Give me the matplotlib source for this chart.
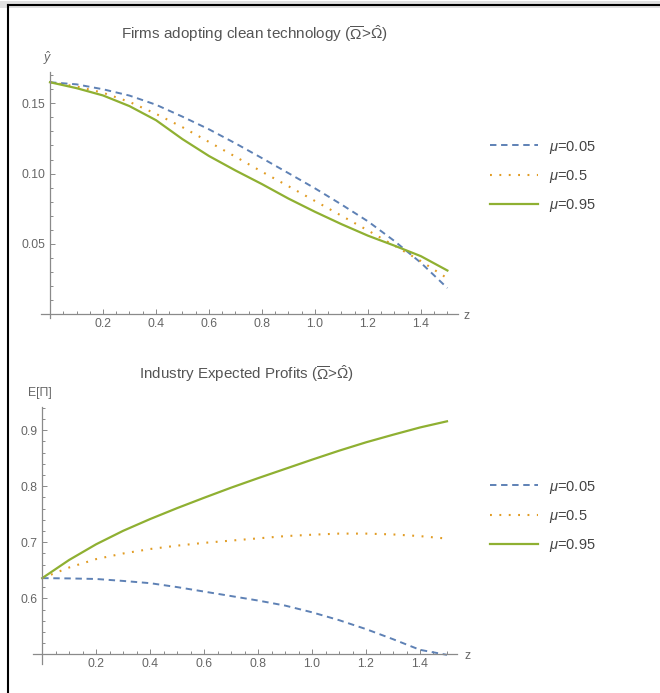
import matplotlib
matplotlib.use('Agg')
import matplotlib.pyplot as plt
from matplotlib.lines import Line2D
from matplotlib.ticker import FixedLocator, MultipleLocator, FormatStrFormatter

plt.rcParams['font.family'] = ['Liberation Sans', 'DejaVu Sans']
plt.rcParams['mathtext.fontset'] = 'custom'
plt.rcParams['mathtext.rm'] = 'Liberation Sans'
plt.rcParams['mathtext.it'] = 'Liberation Sans:italic'
plt.rcParams['mathtext.bf'] = 'Liberation Sans:bold'

# ---------------- data ----------------
z = [0.0, 0.1, 0.2, 0.3, 0.4, 0.5, 0.6, 0.7, 0.8, 0.9, 1.0, 1.1, 1.2, 1.3, 1.4, 1.5]
series_labels = [r'$\mu$=0.05', r'$\mu$=0.5', r'$\mu$=0.95']

# Firms adopting clean technology (y-hat)
yhat_mu005 = [0.165, 0.1635, 0.160, 0.1555, 0.149, 0.1405, 0.1315, 0.1215, 0.111, 0.1003,
              0.0895, 0.078, 0.066, 0.052, 0.0365, 0.0185]
yhat_mu05 = [0.165, 0.162, 0.1575, 0.151, 0.1425, 0.133, 0.1225, 0.112, 0.1013, 0.091,
             0.0805, 0.070, 0.0595, 0.0487, 0.0377, 0.0254]
yhat_mu095 = [0.165, 0.1608, 0.1556, 0.148, 0.138, 0.1245, 0.1125, 0.1022, 0.0925, 0.0822,
              0.0728, 0.064, 0.0558, 0.0487, 0.0412, 0.031]

# Industry expected profits E[Pi]
prof_mu005 = [0.636, 0.6355, 0.6345, 0.631, 0.627, 0.620, 0.612, 0.604, 0.596, 0.587,
              0.575, 0.561, 0.545, 0.527, 0.508, 0.499]
prof_mu05 = [0.636, 0.655, 0.670, 0.680, 0.688, 0.694, 0.699, 0.703, 0.707, 0.711,
             0.7135, 0.7155, 0.7155, 0.714, 0.711, 0.7066]
prof_mu095 = [0.636, 0.6685, 0.6965, 0.7205, 0.7415, 0.761, 0.7795, 0.7975, 0.8145, 0.831,
              0.8475, 0.8635, 0.8785, 0.892, 0.905, 0.916]

top_yticks = [0.05, 0.10, 0.15]
bot_yticks = [0.6, 0.7, 0.8, 0.9]
xticks = [0.2, 0.4, 0.6, 0.8, 1.0, 1.2, 1.4]

titles = [r'Firms adopting clean technology ($\overline{\Omega}$>$\hat{\Omega}$)',
          r'Industry Expected Profits ($\overline{\Omega}$>$\hat{\Omega}$)']
ylabels = [r'$\hat{y}$', 'E[Π]']

# ---------------- style ----------------
W, H = 660, 693
colors = ['#5E81B5', '#E19C24', '#8FB032']
styles = [dict(linestyle=(0, (3.3, 2.4)), linewidth=1.4),
          dict(linestyle=(0, (0.9, 3.6)), linewidth=1.5),
          dict(linestyle='-', linewidth=1.6)]
axcol = '#8a8a8a'
txtcol = '#666666'

fig = plt.figure(figsize=(W / 100, H / 100), dpi=100)


def px_rect(l, t, r, b):
    return [l / W, 1 - b / H, (r - l) / W, (b - t) / H]


def style_axes(ax, yorigin, ymajor, yminor, fmt):
    for s in ['top', 'right']:
        ax.spines[s].set_visible(False)
    ax.spines['left'].set_position(('data', 0))
    ax.spines['bottom'].set_position(('data', yorigin))
    for s in ['left', 'bottom']:
        ax.spines[s].set_color(axcol)
        ax.spines[s].set_linewidth(0.9)
    ax.xaxis.set_major_locator(FixedLocator(xticks))
    ax.xaxis.set_minor_locator(MultipleLocator(0.05))
    ax.yaxis.set_major_locator(FixedLocator(ymajor))
    ax.yaxis.set_minor_locator(MultipleLocator(yminor))
    ax.yaxis.set_major_formatter(FormatStrFormatter(fmt))
    ax.xaxis.set_major_formatter(FormatStrFormatter('%.1f'))
    ax.tick_params(which='both', direction='in', color=axcol, width=0.7,
                   labelcolor=txtcol, labelsize=8.8)
    ax.tick_params(which='major', length=3.8)
    ax.tick_params(which='minor', length=2.2)
    ax.tick_params(axis='y', pad=3.5)
    ax.tick_params(axis='x', pad=2.5)
    ax.patch.set_alpha(0)


# ---- top panel ----
ax1 = fig.add_axes(px_rect(41, 71.7, 458, 318))
for vals, c, st, lab in zip([yhat_mu005, yhat_mu05, yhat_mu095], colors, styles, series_labels):
    ax1.plot(z, vals, color=c, label=lab, **st)
ax1.set_xlim(-0.034, 1.54)
ax1.set_ylim(-0.0028, 0.1725)
style_axes(ax1, 0, top_yticks, 0.01, '%.2f')

# ---- bottom panel ----
ax2 = fig.add_axes(px_rect(33.3, 407.3, 456.7, 664))
for vals, c, st, lab in zip([prof_mu005, prof_mu05, prof_mu095], colors, styles, series_labels):
    ax2.plot(z, vals, color=c, label=lab, **st)
ax2.set_xlim(-0.033, 1.536)
ax2.set_ylim(0.4827, 0.941)
style_axes(ax2, 0.5, bot_yticks, 0.02, '%.1f')

# legends
for ax, yc in [(ax1, 176.5), (ax2, 516.5)]:
    ax.legend(loc='center left', bbox_to_anchor=(490 / W, 1 - yc / H),
              bbox_transform=fig.transFigure, frameon=False, fontsize=10.5,
              handlelength=3.3, handletextpad=0.75, labelspacing=0.85,
              borderpad=0, borderaxespad=0, labelcolor='#444444')

# titles, axis labels
fig.text(254 / W, 1 - 34 / H, titles[0], ha='center', va='center', fontsize=11, color='#555555')
fig.text(246 / W, 1 - 374 / H, titles[1], ha='center', va='center', fontsize=10.9, color='#555555')
fig.text(48 / W, 1 - 58 / H, ylabels[0], ha='center', va='center', fontsize=9, color=txtcol)
fig.text(40 / W, 1 - 393 / H, ylabels[1], ha='center', va='center', fontsize=8.8, color=txtcol)
fig.text(467 / W, 1 - 316 / H, 'z', ha='center', va='center', fontsize=8.8, color=txtcol)
fig.text(468 / W, 1 - 656 / H, 'z', ha='center', va='center', fontsize=8.8, color=txtcol)

# page frame
fig.add_artist(Line2D([0, 1], [1 - 3.5 / H, 1 - 3.5 / H], transform=fig.transFigure,
                      color='#e0e0e0', linewidth=5))
fig.add_artist(Line2D([8 / W, 1], [1 - 5 / H, 1 - 5 / H], transform=fig.transFigure,
                      color='black', linewidth=1.5))
fig.add_artist(Line2D([8 / W, 8 / W], [0, 1 - 5 / H], transform=fig.transFigure,
                      color='black', linewidth=1.5))

fig.savefig('out.png', dpi=100)
